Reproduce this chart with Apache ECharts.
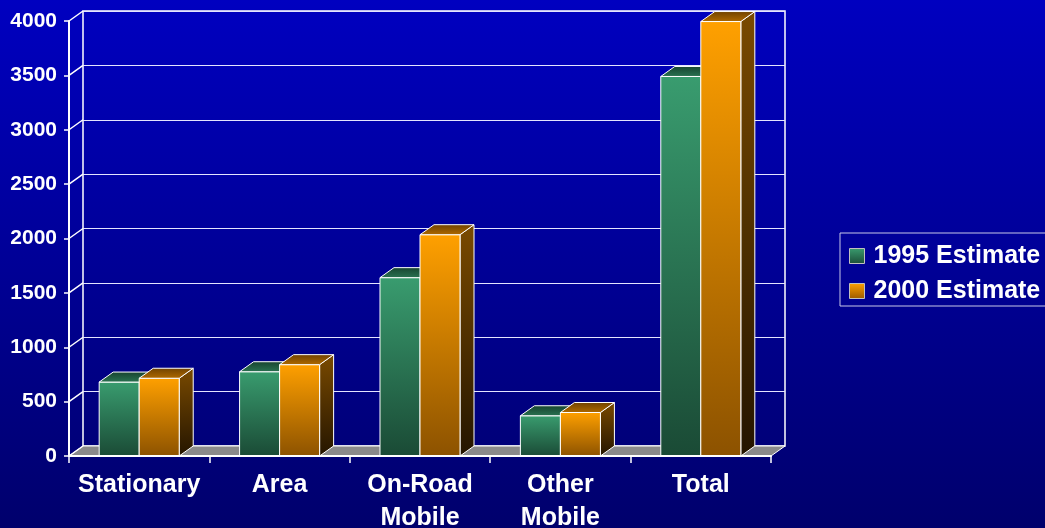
<!DOCTYPE html>
<html>
<head>
<meta charset="utf-8">
<script src="https://cdn.jsdelivr.net/npm/echarts@6/dist/echarts.min.js"></script>
<style>
  html, body { margin: 0; padding: 0; }
  #chart { width: 1045px; height: 528px; }
</style>
</head>
<body>
<div id="chart"></div>
<script>
// Emission estimates by source category
const categories = ['Stationary', 'Area', 'On-Road\nMobile', 'Other\nMobile', 'Total'];
const est1995 = [680, 775, 1640, 370, 3490];
const est2000 = [715, 840, 2035, 400, 3995];
const yTicks = [0, 500, 1000, 1500, 2000, 2500, 3000, 3500, 4000];
const seriesNames = ['1995 Estimate', '2000 Estimate'];

// depth of the 3D box (px to the right, px upward)
const DX = 14, DY = 10;
const FONT = '"Liberation Sans", Arial, sans-serif';
const G = echarts.graphic;

const palette = [
  { // green
    front: ['#399c6f', '#1a4a35'],
    top: ['#17432f', '#2a7352'],
    side: ['#1f5a40', '#0d2a1d'],
    legend: ['#3a9c6f', '#1c4d38']
  },
  { // orange
    front: ['#ffa000', '#8c5200'],
    top: ['#6e4100', '#b06a00'],
    side: ['#7a4a00', '#241500'],
    legend: ['#ffa000', '#9a5a00']
  }
];

function vgrad(c) {
  return new G.LinearGradient(0, 0, 0, 1, [
    { offset: 0, color: c[0] }, { offset: 1, color: c[1] }
  ]);
}

function barRenderer(idx) {
  const pal = palette[idx];
  return function (params, api) {
    const cat = api.value(0);
    const val = api.value(1);
    const top = api.coord([cat, val]);
    const base = api.coord([cat, 0]);
    const band = api.size([1, 0])[0];
    const w = band * 0.285;
    const x0 = idx === 0 ? top[0] - w : top[0];
    const ty = top[1], by = base[1];
    const stroke = { stroke: '#ffffff', lineWidth: 1 };
    return {
      type: 'group',
      children: [
        {
          type: 'polygon',
          shape: { points: [[x0 + w, ty], [x0 + w + DX, ty - DY], [x0 + w + DX, by - DY], [x0 + w, by]] },
          style: Object.assign({ fill: vgrad(pal.side) }, stroke)
        },
        {
          type: 'rect',
          shape: { x: x0, y: ty, width: w, height: by - ty },
          style: Object.assign({ fill: vgrad(pal.front) }, stroke)
        },
        {
          type: 'polygon',
          shape: { points: [[x0, ty], [x0 + w, ty], [x0 + w + DX, ty - DY], [x0 + DX, ty - DY]] },
          style: Object.assign({ fill: vgrad(pal.top) }, stroke)
        }
      ]
    };
  };
}

const chart = echarts.init(document.getElementById('chart'), null, { renderer: 'canvas' });

const option = {
  backgroundColor: new G.LinearGradient(0, 0, 0, 1, [
    { offset: 0, color: '#0000c0' }, { offset: 1, color: '#00006c' }
  ]),
  animation: false,
  textStyle: { fontFamily: FONT },
  legend: {
    data: seriesNames,
    orient: 'vertical',
    icon: 'rect',
    left: 840,
    top: 233,
    padding: [9, 14, 1, 9],
    itemGap: 7,
    itemWidth: 15,
    itemHeight: 15,
    borderColor: '#c8c8e8',
    borderWidth: 1,
    itemStyle: { borderColor: '#c0c0c0', borderWidth: 1 },
    textStyle: { color: '#ffffff', fontSize: 25, fontWeight: 'bold', fontFamily: FONT, lineHeight: 28, padding: [0, 0, 0, 4] }
  },
  grid: [
    // front plane: value scale and category axis
    { left: 69, right: 274, top: 21, bottom: 72, outerBoundsMode: 'none', containLabel: false },
    // back wall, shifted by the depth offset
    { left: 69 + DX, right: 274 - DX, top: 21 - DY, bottom: 72 + DY, outerBoundsMode: 'none', containLabel: false,
      show: true, borderColor: '#ffffff', borderWidth: 1.5, backgroundColor: 'transparent' }
  ],
  xAxis: [
    {
      type: 'category', gridIndex: 0, data: categories, z: 5,
      axisLine: { show: true, lineStyle: { color: '#ffffff', width: 2 } },
      axisTick: { show: true, length: 7, interval: 0, lineStyle: { color: '#ffffff', width: 1.5 } },
      axisLabel: { color: '#ffffff', fontSize: 25, fontWeight: 'bold', fontFamily: FONT, lineHeight: 33, margin: 13, interval: 0 }
    },
    {
      type: 'category', gridIndex: 1, data: categories,
      axisLine: { show: false }, axisTick: { show: false }, axisLabel: { show: false }
    }
  ],
  yAxis: [
    {
      type: 'value', gridIndex: 0, min: 0, max: 4000, interval: 500, z: 5,
      axisLine: { show: true, lineStyle: { color: '#ffffff', width: 2 } },
      axisTick: { show: true, length: 5, lineStyle: { color: '#ffffff', width: 1.5 } },
      axisLabel: { color: '#ffffff', fontSize: 21, fontWeight: 'bold', fontFamily: FONT, margin: 12,
        formatter: function (v) { return String(v); } },
      splitLine: { show: false }
    },
    {
      type: 'value', gridIndex: 1, min: 0, max: 4000, interval: 500,
      axisLine: { show: false }, axisTick: { show: false }, axisLabel: { show: false },
      splitLine: { show: true, lineStyle: { color: '#e4e4ff', width: 1.2 } }
    }
  ],
  series: [
    { // floor of the 3D box
      type: 'custom', name: 'floor', xAxisIndex: 0, yAxisIndex: 0, z: 1, silent: true,
      data: [[0, 0]],
      renderItem: function (params, api) {
        const cs = params.coordSys;
        const y0 = api.coord([0, 0])[1];
        return {
          type: 'polygon',
          shape: { points: [[cs.x, y0], [cs.x + cs.width, y0], [cs.x + cs.width + DX, y0 - DY], [cs.x + DX, y0 - DY]] },
          style: { fill: '#8a8a8a', stroke: '#ffffff', lineWidth: 1 }
        };
      }
    },
    { // side-wall connectors from each value tick to the back wall
      type: 'custom', name: 'wall', xAxisIndex: 0, yAxisIndex: 0, z: 2, silent: true,
      data: yTicks.map(v => [0, v]),
      renderItem: function (params, api) {
        const cs = params.coordSys;
        const y = api.coord([0, api.value(1)])[1];
        return {
          type: 'line',
          shape: { x1: cs.x, y1: y, x2: cs.x + DX, y2: y - DY },
          style: { stroke: '#ffffff', lineWidth: 1.5 }
        };
      }
    },
    {
      type: 'custom', name: seriesNames[0], xAxisIndex: 0, yAxisIndex: 0, z: 3,
      itemStyle: { color: vgrad(palette[0].legend) },
      encode: { x: 0, y: 1 },
      data: est1995.map((v, i) => [i, v]),
      renderItem: barRenderer(0)
    },
    {
      type: 'custom', name: seriesNames[1], xAxisIndex: 0, yAxisIndex: 0, z: 3,
      itemStyle: { color: vgrad(palette[1].legend) },
      encode: { x: 0, y: 1 },
      data: est2000.map((v, i) => [i, v]),
      renderItem: barRenderer(1)
    }
  ]
};

chart.setOption(option);
</script>
</body>
</html>
